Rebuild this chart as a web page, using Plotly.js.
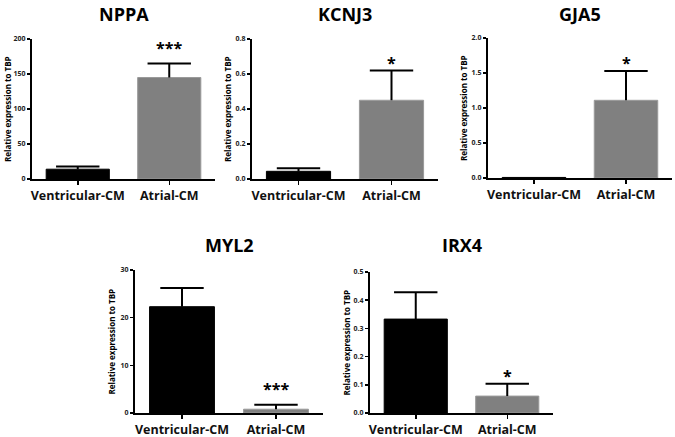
<!DOCTYPE html>
<html>
<head>
<meta charset="utf-8">
<script src="https://cdn.plot.ly/plotly-3.0.1.min.js"></script>
<style>
  body { margin: 0; background: #fff; }
  #chart { width: 675px; height: 437px; }
</style>
</head>
<body>
<div id="chart"></div>
<script>
var categories = ["Ventricular-CM", "Atrial-CM"];

var genes = ["NPPA", "KCNJ3", "GJA5", "MYL2", "IRX4"];

var nppa_mean = [14, 145];
var nppa_err = [4, 20];
var kcnj3_mean = [0.044, 0.45];
var kcnj3_err = [0.018, 0.17];
var gja5_mean = [0.008, 1.11];
var gja5_err = [0, 0.42];
var myl2_mean = [22.3, 0.8];
var myl2_err = [3.9, 0.95];
var irx4_mean = [0.333, 0.06];
var irx4_err = [0.095, 0.044];

// significance marks (Atrial vs Ventricular)
var stars = ["***", "*", "*", "***", "*"];

var y_max = [200, 0.8, 2.0, 30, 0.5];
var y_dtick = [50, 0.2, 0.5, 10, 0.1];
var y_fmt = ["", ".1f", ".1f", "", ".1f"];

var means = [nppa_mean, kcnj3_mean, gja5_mean, myl2_mean, irx4_mean];
var errs = [nppa_err, kcnj3_err, gja5_err, myl2_err, irx4_err];

// panel boxes in pixels: left, right, top, bottom
var W = 675, H = 437;
var boxes = [
	[32, 215, 39, 179],
	[252, 438, 39, 179],
	[488, 672, 38, 178],
	[135, 323, 270, 413],
	[370, 553, 272, 413]
];

var barColors = ["#000000", "#808080"];
var font = "Open Sans, Lato, Arial, sans-serif";

var data = [];
var annotations = [];
var layout = {
	width: W,
	height: H,
	margin: { l: 0, r: 0, t: 0, b: 0 },
	paper_bgcolor: "#ffffff",
	plot_bgcolor: "#ffffff",
	showlegend: false,
	bargap: 0.31,
	font: { family: font, color: "#000" }
};

for (var i = 0; i < genes.length; i++) {
	var n = i === 0 ? "" : String(i + 1);
	var b = boxes[i];
	var tops = [means[i][0] + errs[i][0], means[i][1] + errs[i][1]];

	// bars with a stem going up only (no cap at the bar top)
	data.push({
		type: "bar",
		x: categories,
		y: means[i],
		xaxis: "x" + n,
		yaxis: "y" + n,
		marker: {
			color: barColors,
			line: { color: ["#000000", "#9a9a9a"], width: 1 }
		},
		error_y: {
			type: "data",
			symmetric: false,
			array: errs[i],
			arrayminus: [0, 0],
			color: "#000",
			thickness: 2,
			width: 0,
			visible: true
		},
		hoverinfo: "none"
	});

	// caps of the error bars
	data.push({
		type: "scatter",
		mode: "markers",
		x: categories,
		y: tops,
		xaxis: "x" + n,
		yaxis: "y" + n,
		marker: {
			symbol: "line-ew",
			size: 31,
			color: "#000",
			line: { color: "#000", width: 2 },
			opacity: errs[i].map(function (e) { return e > 0 ? 1 : 0; })
		},
		hoverinfo: "none",
		cliponaxis: false
	});

	layout["xaxis" + n] = {
		domain: [b[0] / W, b[1] / W],
		anchor: "y" + n,
		type: "category",
		showline: true,
		linewidth: 2,
		linecolor: "#000",
		ticks: "outside",
		ticklen: 4,
		tickwidth: 1.5,
		tickcolor: "#000",
		ticklabelstandoff: 0,
		showgrid: false,
		zeroline: false,
		fixedrange: true,
		tickfont: { family: font, size: 12.5, weight: "bold", color: "#111" }
	};

	layout["yaxis" + n] = {
		domain: [1 - b[3] / H, 1 - b[2] / H],
		anchor: "x" + n,
		range: [0, y_max[i]],
		dtick: y_dtick[i],
		tick0: 0,
		tickformat: y_fmt[i],
		showline: true,
		linewidth: 2,
		linecolor: "#000",
		ticks: "outside",
		ticklen: 3,
		tickwidth: 1.5,
		tickcolor: "#000",
		ticklabelstandoff: 0,
		showgrid: false,
		zeroline: false,
		fixedrange: true,
		tickfont: { family: font, size: 7, weight: "bold", color: "#222" }
	};

	// panel title
	annotations.push({
		xref: "paper", yref: "paper",
		x: (b[0] + b[1]) / 2 / W,
		y: 1 - (i < 3 ? 14 : 245) / H,
		xanchor: "center", yanchor: "middle",
		text: genes[i],
		showarrow: false,
		font: { family: font, size: 18, weight: "bold", color: "#000" }
	});

	// y axis title
	annotations.push({
		xref: "paper", yref: "paper",
		x: (b[0] - 24) / W,
		y: 1 - (b[2] + b[3]) / 2 / H,
		xanchor: "center", yanchor: "middle",
		textangle: -90,
		text: "Relative expression to TBP",
		showarrow: false,
		font: { family: font, size: 8, weight: "bold", color: "#000" }
	});

	// significance stars above the atrial error bar
	annotations.push({
		xref: "x" + n, yref: "y" + n,
		x: categories[1],
		y: tops[1],
		xanchor: "center", yanchor: "bottom",
		yshift: stars[i].length > 1 ? 3 : -5,
		text: stars[i],
		showarrow: false,
		font: { family: font, size: 16, weight: "bold", color: "#000" }
	});
}

layout.annotations = annotations;

Plotly.newPlot("chart", data, layout, { displayModeBar: false, staticPlot: true });
</script>
</body>
</html>
